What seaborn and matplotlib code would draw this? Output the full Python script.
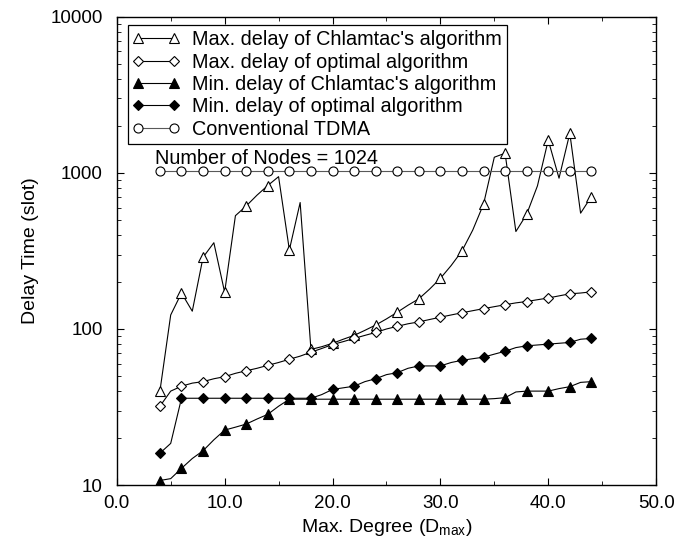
import seaborn as sns
import matplotlib.pyplot as plt
import matplotlib.ticker as mt
import pandas as pd

# Max. degree values, one per integer step (markers drawn on the even ones)
degree = list(range(4, 45))
degree_even = list(range(4, 45, 2))

max_chlamtac = [40, 123, 170, 130, 288, 357, 172, 532, 614, 720, 830,
                946, 321, 646, 74, 77, 81, 86, 91, 98, 106, 116, 128,
                142, 156, 180, 211, 255, 316, 430, 630, 1260, 1337, 421,
                543, 826, 1623, 925, 1795, 552, 705]
max_optimal = [32, 40, 43, 45, 46, 48, 49.5, 52, 54, 56, 58.5, 61, 64, 67,
               71, 75, 79.5, 83, 87, 91, 95, 100, 104, 108, 111, 115, 119,
               123, 127, 131, 135, 139, 143, 147, 150, 154, 158, 163, 168,
               170, 173]
min_chlamtac = [10.7, 11, 12.8, 14.8, 16.6, 19.5, 22.5, 23.5, 24.6, 26.5,
                28.4, 32, 35.5, 35.5, 35.5, 35.5, 35.5, 35.5, 35.5, 35.5,
                35.5, 35.5, 35.5, 35.5, 35.5, 35.5, 35.5, 35.5, 35.5, 35.5,
                35.5, 35.8, 36.3, 39.5, 40, 40, 40, 41.5, 42.7, 45.5, 46]
min_optimal = [16, 18.5, 36, 36, 36, 36, 36, 36, 36, 36, 36, 36, 36, 36,
               36, 38, 41, 42, 43, 46, 48, 51, 52.5, 56, 58, 58, 58, 61,
               63, 64.5, 66, 69, 72, 76, 78, 79, 80, 81, 82, 86, 87]
tdma = [1024, 1024, 1024, 1024, 1024, 1024, 1024, 1024, 1024, 1024, 1024,
        1024, 1024, 1024, 1024, 1024, 1024, 1024, 1024, 1024, 1024]

labels = ["Max. delay of Chlamtac's algorithm",
          "Max. delay of optimal algorithm",
          "Min. delay of Chlamtac's algorithm",
          "Min. delay of optimal algorithm",
          "Conventional TDMA"]

sns.set_theme(style="ticks")
plt.rcParams['font.family'] = ['Liberation Sans', 'DejaVu Sans']
plt.rcParams['mathtext.fontset'] = 'custom'
plt.rcParams['mathtext.rm'] = 'Liberation Sans'
plt.rcParams['text.color'] = 'black'
plt.rcParams['axes.labelcolor'] = 'black'

fig = plt.figure(figsize=(6.75, 5.42), dpi=100, facecolor='white')
ax = fig.add_subplot(111)
fig.subplots_adjust(left=0.173, right=0.972, top=0.969, bottom=0.105)

df = pd.DataFrame({'x': degree, 'maxc': max_chlamtac, 'maxo': max_optimal,
                   'minc': min_chlamtac, 'mino': min_optimal})
df_t = pd.DataFrame({'x': degree_even, 'tdma': tdma})

common = dict(color='black', lw=0.8, markevery=2, markeredgecolor='black',
              markeredgewidth=0.8, ms=7)
sns.lineplot(data=df, x='x', y='maxc', marker='^', markerfacecolor='white',
             label=labels[0], ax=ax, **common)
sns.lineplot(data=df, x='x', y='maxo', marker='D', markerfacecolor='white',
             label=labels[1], ax=ax, **dict(common, ms=5.5))
sns.lineplot(data=df, x='x', y='minc', marker='^', markerfacecolor='black',
             label=labels[2], ax=ax, **common)
sns.lineplot(data=df, x='x', y='mino', marker='D', markerfacecolor='black',
             label=labels[3], ax=ax, **dict(common, ms=5.5))
sns.lineplot(data=df_t, x='x', y='tdma', marker='o', markerfacecolor='white',
             label=labels[4], ax=ax,
             **dict(common, markevery=1, color='0.35', ms=6.5))

ax.set_yscale('log')
ax.set_xlim(0, 50)
ax.set_ylim(10, 10000)
ax.xaxis.set_major_locator(mt.MultipleLocator(10))
ax.xaxis.set_minor_locator(mt.MultipleLocator(5))
ax.xaxis.set_major_formatter(mt.FormatStrFormatter('%.1f'))
ax.yaxis.set_major_formatter(mt.FuncFormatter(lambda v, p: '%d' % v))
ax.yaxis.set_minor_formatter(mt.NullFormatter())
ax.tick_params(which='both', direction='in', top=True, right=True,
               colors='black', labelsize=13.5)
ax.tick_params(which='major', length=5, width=0.8)
ax.tick_params(which='minor', length=3, width=0.6)
ax.tick_params(axis='y', pad=10)
ax.tick_params(axis='x', pad=7)
for s in ax.spines.values():
    s.set_color('black')
    s.set_linewidth(1.0)

ax.set_xlabel(r'Max. Degree (D$_\mathregular{max}$)', fontsize=14, labelpad=4)
ax.set_ylabel('Delay Time (slot)', fontsize=14, labelpad=8)

ax.text(3.5, 1140, 'Number of Nodes = 1024', fontsize=14.3, va='baseline')

leg = ax.legend(loc='upper left', bbox_to_anchor=(0.02, 0.982), fontsize=14.3,
                numpoints=2, handlelength=2.4, handletextpad=0.6,
                labelspacing=0.17, borderpad=0.25, borderaxespad=0,
                frameon=True, fancybox=False, edgecolor='black',
                framealpha=1)
leg.get_frame().set_linewidth(0.9)

fig.savefig('out.png', dpi=100, facecolor='white')
